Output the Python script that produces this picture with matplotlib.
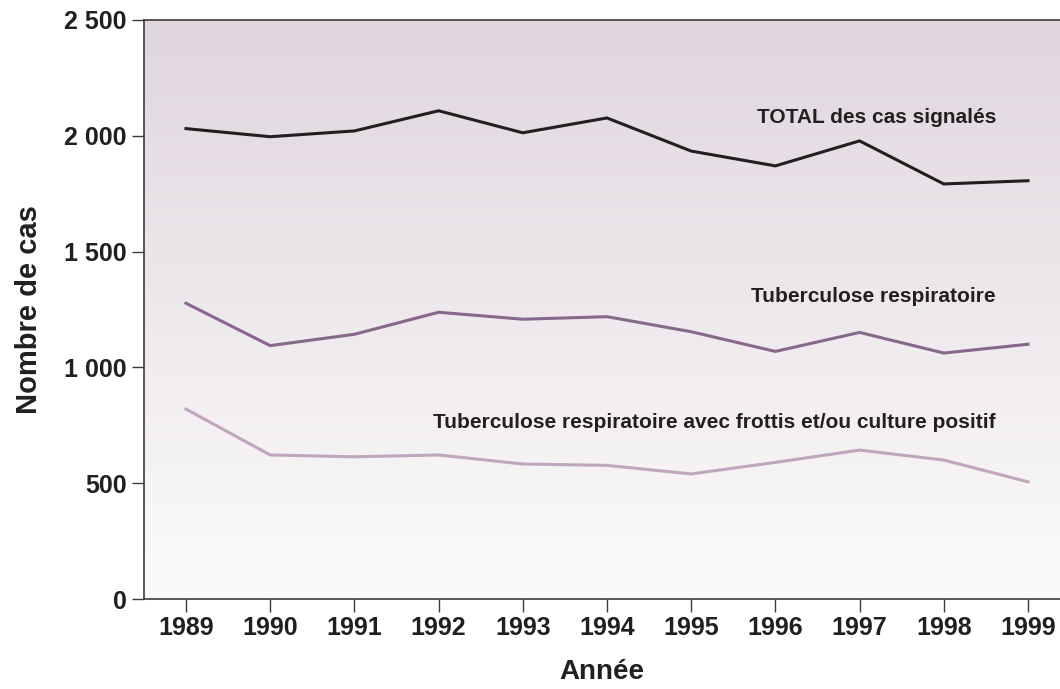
import numpy as np
import matplotlib
matplotlib.use("Agg")
import matplotlib.pyplot as plt
from matplotlib.colors import LinearSegmentedColormap

plt.rcParams['font.family'] = ['Liberation Sans', 'DejaVu Sans']
plt.rcParams['font.weight'] = 'bold'

# --- données ---
years = [1989, 1990, 1991, 1992, 1993, 1994, 1995, 1996, 1997, 1998, 1999]
total = [2031, 1996, 2021, 2108, 2013, 2077, 1934, 1870, 1978, 1792, 1806]
resp = [1277, 1094, 1143, 1238, 1208, 1219, 1154, 1069, 1151, 1062, 1100]
resp_pos = [820, 622, 614, 622, 583, 577, 540, 590, 643, 600, 506]

yticks = [0, 500, 1000, 1500, 2000, 2500]
ytick_labels = ['0', '500', '1 000', '1 500', '2 000', '2 500']

labels = ['TOTAL des cas signalés',
          'Tuberculose respiratoire',
          'Tuberculose respiratoire avec frottis et/ou culture positif']

txt_col = '#231f20'

fig = plt.figure(figsize=(10.6, 6.89), dpi=100)
ax = fig.add_axes((0.1363, 0.1306, 0.8637, 0.8404))

# fond en dégradé
grad = np.linspace(0, 1, 256).reshape(-1, 1)
cmap = LinearSegmentedColormap.from_list('bg', ['#fcfbfb', '#e0d6de'])
ax.imshow(grad, cmap=cmap, origin='lower', aspect='auto',
          extent=(0, 1, 0, 1), transform=ax.transAxes, zorder=0)

ax.plot(years, total, color='#231f20', lw=2.2, zorder=3)
ax.plot(years, resp, color='#87678a', lw=2.2, zorder=3)
ax.plot(years, resp_pos, color='#c0a5bf', lw=2.2, zorder=3)

# étiquettes des courbes
ax.text(1998.62, 2081, labels[0], ha='right', va='center', fontsize=15, color=txt_col)
ax.text(1998.62, 1308, labels[1], ha='right', va='center', fontsize=15, color=txt_col)
ax.text(1998.62, 760, labels[2], ha='right', va='center', fontsize=15, color=txt_col)

ax.set_xlim(1988.507, 1999.38)
ax.set_ylim(0, 2500)
ax.set_xticks(years)
ax.set_xticklabels([str(y) for y in years])
ax.set_yticks(yticks)
ax.set_yticklabels(ytick_labels)

for s in ['left', 'bottom', 'top']:
    ax.spines[s].set_color('#3c3c3c')
    ax.spines[s].set_linewidth(1.2)
ax.spines['right'].set_visible(False)

ax.tick_params(axis='y', direction='out', length=9, width=1, color='#3c3c3c',
               labelsize=18, labelcolor=txt_col, pad=4)
ax.tick_params(axis='x', direction='out', length=9, width=1, color='#3c3c3c',
               labelsize=18, labelcolor=txt_col, pad=3)

ax.set_ylabel('Nombre de cas', fontsize=21, fontweight='bold', color=txt_col, labelpad=15)
ax.set_xlabel('Année', fontsize=20, fontweight='bold', color=txt_col, labelpad=14)

fig.savefig('out.png', dpi=100)
